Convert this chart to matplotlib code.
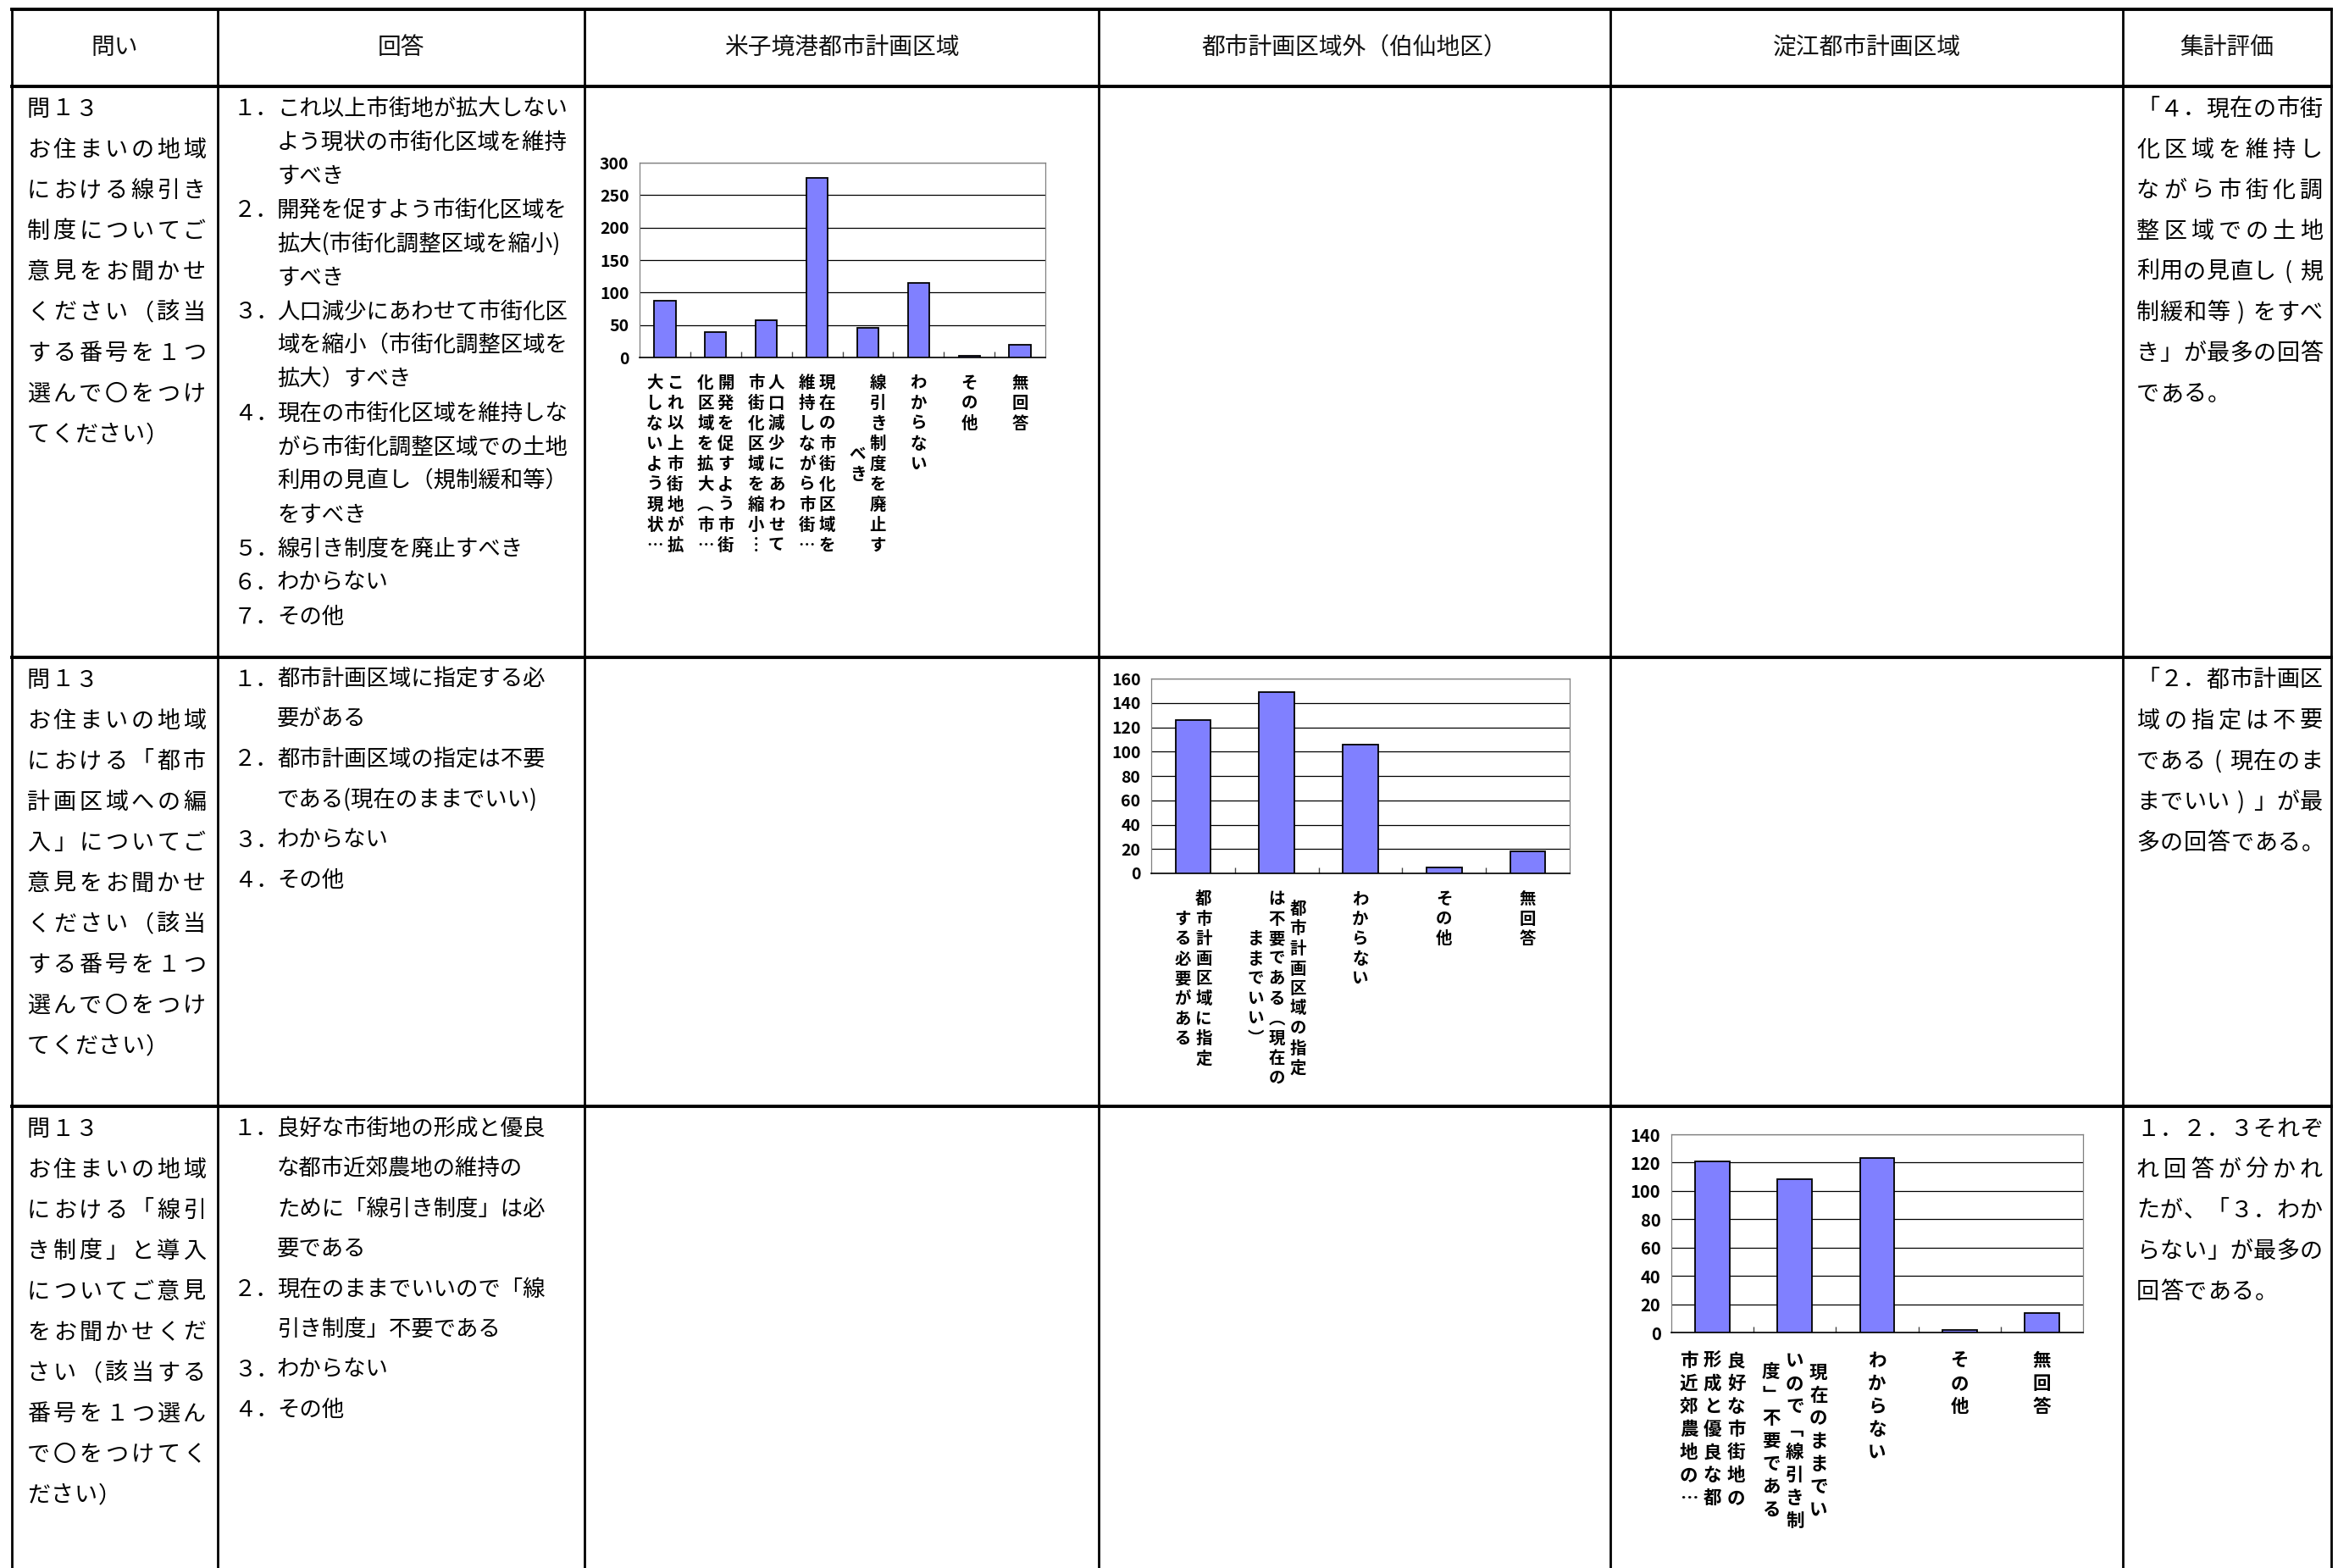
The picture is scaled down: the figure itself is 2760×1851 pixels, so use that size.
import matplotlib
matplotlib.use('Agg')
import matplotlib.pyplot as plt
from matplotlib import transforms as mtrans
from matplotlib.lines import Line2D

plt.rcParams['font.family'] = ['Noto Sans CJK JP', 'DejaVu Sans']

W, H, DPI = 2760, 1851, 100

# ---------------- data ----------------
headers = ['問い', '回答', '米子境港都市計画区域', '都市計画区域外（伯仙地区）',
           '淀江都市計画区域', '集計評価']

question_lines = [
    ['問１３', 'お住まいの地域', 'における線引き', '制度についてご', '意見をお聞かせ',
     'ください（該当', 'する番号を１つ', '選んで〇をつけ', 'てください）'],
    ['問１３', 'お住まいの地域', 'における「都市', '計画区域への編', '入」についてご',
     '意見をお聞かせ', 'ください（該当', 'する番号を１つ', '選んで〇をつけ', 'てください）'],
    ['問１３', 'お住まいの地域', 'における「線引', 'き制度」と導入', 'についてご意見',
     'をお聞かせくだ', 'さい（該当する', '番号を１つ選ん', 'で〇をつけてく', 'ださい）'],
]

answers_row1 = [
    ('１．', ['これ以上市街地が拡大しない', 'よう現状の市街化区域を維持', 'すべき']),
    ('２．', ['開発を促すよう市街化区域を', '拡大(市街化調整区域を縮小)', 'すべき']),
    ('３．', ['人口減少にあわせて市街化区', '域を縮小（市街化調整区域を', '拡大）すべき']),
    ('４．', ['現在の市街化区域を維持しな', 'がら市街化調整区域での土地',
             '利用の見直し（規制緩和等）', 'をすべき']),
    ('５．', ['線引き制度を廃止すべき']),
    ('６．', ['わからない']),
    ('７．', ['その他']),
]
answers_row2 = [
    ('１．', ['都市計画区域に指定する必', '要がある']),
    ('２．', ['都市計画区域の指定は不要', 'である(現在のままでいい)']),
    ('３．', ['わからない']),
    ('４．', ['その他']),
]
answers_row3 = [
    ('１．', ['良好な市街地の形成と優良', 'な都市近郊農地の維持の',
             'ために「線引き制度」は必', '要である']),
    ('２．', ['現在のままでいいので「線', '引き制度」不要である']),
    ('３．', ['わからない']),
    ('４．', ['その他']),
]

evaluation_lines = [
    ['「４．現在の市街', '化区域を維持し', 'ながら市街化調', '整区域での土地',
     '利用の見直し(規', '制緩和等)をすべ', 'き」が最多の回答', 'である。'],
    ['「２．都市計画区', '域の指定は不要', 'である(現在のま', 'までいい)」が最',
     '多の回答である。'],
    ['１．２．３それぞ', 'れ回答が分かれ', 'たが、「３．わか', 'らない」が最多の',
     '回答である。'],
]

# chart 1 : 米子境港都市計画区域
cats1 = [['これ以上市街地が拡', '大しないよう現状…'],
         ['開発を促すよう市街', '化区域を拡大︵市…'],
         ['人口減少にあわせて', '市街化区域を縮小︙'],
         ['現在の市街化区域を', '維持しながら市街…'],
         ['線引き制度を廃止す', 'べき'],
         ['わからない'], ['その他'], ['無回答']]
vals1 = [87, 39, 57, 276, 46, 115, 2, 19]

# chart 2 : 都市計画区域外（伯仙地区）
cats2 = [['都市計画区域に指定', 'する必要がある'],
         ['都市計画区域の指定', 'は不要である︵現在の', 'ままでいい︶'],
         ['わからない'], ['その他'], ['無回答']]
vals2 = [126, 149, 106, 5, 18]

# chart 3 : 淀江都市計画区域
cats3 = [['良好な市街地の', '形成と優良な都', '市近郊農地の…'],
         ['現在のままでい', 'いので﹁線引き制', '度﹂不要である'],
         ['わからない'], ['その他'], ['無回答']]
vals3 = [121, 108, 123, 2, 14]

# ---------------- figure ----------------
fig = plt.figure(figsize=(W / DPI, H / DPI), dpi=DPI)
fig.patch.set_facecolor('white')

col_x = [14, 257, 690, 1297, 1901, 2506, 2752]
row_y = [11, 102, 776, 1306]


def fig_line(xs, ys, lw):
    fig.add_artist(Line2D([x / W for x in xs], [1 - y / H for y in ys],
                          color='black', linewidth=lw, transform=fig.transFigure,
                          solid_capstyle='projecting'))


for y in row_y:
    fig_line([col_x[0], col_x[-1]], [y, y], 2.8)
for x in col_x:
    fig_line([x, x], [row_y[0], H + 5], 2.0)


def ftext(x, y, s, **kw):
    fig.text(x / W, 1 - y / H, s, **kw)


def just_line(x0, x1, y, s, fs, justify):
    """Draw a line of text with its characters distributed across x0..x1."""
    e = fs * DPI / 72.0
    n = len(s)
    if justify and n > 1:
        step = (x1 - x0 - e) / (n - 1)
    else:
        step = e * 1.03
    for k, ch in enumerate(s):
        ftext(x0 + e / 2 + k * step, y, ch, ha='center', va='center',
              fontsize=fs, color='black')


# headers
for i, h in enumerate(headers):
    ftext((col_x[i] + col_x[i + 1]) / 2, 56, h, ha='center', va='center',
          fontsize=20, color='#111111')

row_tops = [102, 776, 1306]

# question column
for r, lines in enumerate(question_lines):
    for k, s in enumerate(lines):
        just_line(32, 243, row_tops[r] + 27 + k * 48.1, s, 19.5, len(s) >= 7)

# answers column
for r, (ans, pitch) in enumerate([(answers_row1, 40.0), (answers_row2, 47.5),
                                  (answers_row3, 47.5)]):
    k = 0
    for num, lines in ans:
        ftext(276, row_tops[r] + 26 + k * pitch, num, ha='left', va='center',
              fontsize=19, color='black')
        for s in lines:
            ftext(327, row_tops[r] + 26 + k * pitch, s, ha='left', va='center',
                  fontsize=19, color='black')
            k += 1

# evaluation column
for r, lines in enumerate(evaluation_lines):
    for k, s in enumerate(lines):
        just_line(2522, 2742, row_tops[r] + 27 + k * 48.1, s, 19.5,
                  k < len(lines) - 1)


def draw_chart(box, cats, vals, ymax, ystep, tick_fs, lab_fs, pitch, colpitch, gap):
    x0, y0, x1, y1 = box
    ax = fig.add_axes([x0 / W, 1 - y1 / H, (x1 - x0) / W, (y1 - y0) / H])
    n = len(vals)
    xs = list(range(n))
    ax.bar(xs, vals, width=0.42, color='#8080FF', edgecolor='black',
           linewidth=1.3, zorder=3)
    ax.set_xlim(-0.5, n - 0.5)
    ax.set_ylim(0, ymax)
    ax.set_yticks(list(range(0, ymax + 1, ystep)))
    ax.yaxis.grid(True, color='black', linewidth=0.9)
    ax.set_axisbelow(True)
    ax.set_xticks([i + 0.5 for i in range(n - 1)])
    ax.set_xticklabels([])
    ax.tick_params(axis='x', direction='in', length=5, width=1, color='#444444')
    ax.tick_params(axis='y', length=0, pad=9, labelsize=tick_fs)
    for lab in ax.get_yticklabels():
        lab.set_fontweight('bold')
    for s in ['left', 'top', 'right']:
        ax.spines[s].set_color('#808080')
        ax.spines[s].set_linewidth(0.9)
    ax.spines['bottom'].set_color('black')
    ax.spines['bottom'].set_linewidth(1.2)
    base = mtrans.blended_transform_factory(ax.transData, ax.transAxes)
    for i, cols in enumerate(cats):
        ncol = len(cols)
        maxlen = max(len(c) for c in cols)
        center = gap + maxlen * pitch / 2
        for j, col in enumerate(cols):
            dx = ((ncol - 1) / 2 - j) * colpitch
            for k, ch in enumerate(col):
                dy = center - len(col) * pitch / 2 + (k + 0.5) * pitch
                tr = base + mtrans.ScaledTranslation(dx / DPI, -dy / DPI,
                                                     fig.dpi_scale_trans)
                ax.text(i, 0, ch, transform=tr, ha='center', va='center',
                        fontsize=lab_fs, fontweight='bold', clip_on=False)
    return ax


draw_chart((755, 192, 1234, 422), cats1, vals1, 300, 50, 14, 14, 24, 24, 18)
draw_chart((1359, 801, 1853, 1031), cats2, vals2, 160, 20, 14, 14, 23.5, 25, 19)
draw_chart((1973, 1339, 2459, 1573), cats3, vals3, 140, 20, 14.5, 15.5, 27, 28, 20)

fig.savefig('out.png', dpi=DPI, facecolor='white')
